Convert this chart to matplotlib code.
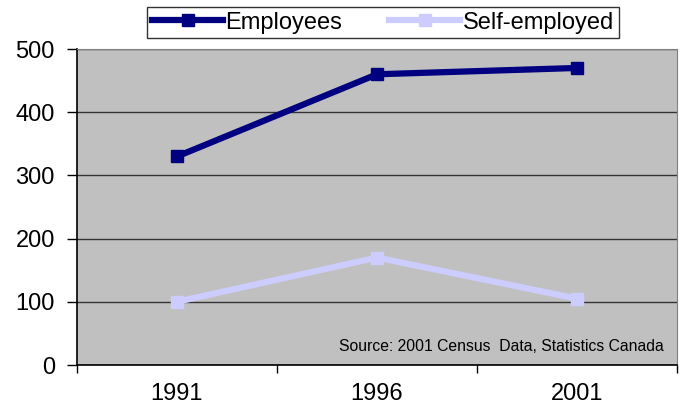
import numpy as np
import matplotlib.pyplot as plt
from matplotlib.ticker import FixedLocator

plt.rcParams['font.family'] = ['Liberation Sans', 'DejaVu Sans']

years = ["1991", "1996", "2001"]
employees = [330, 460, 470]
self_employed = [100, 170, 105]

fig = plt.figure(figsize=(6.84, 4.09), dpi=100)
ax = fig.add_axes([77/684, 1-365/409, 600/684, 316/409])
ax.set_facecolor("#C0C0C0")

x = np.arange(len(years))
ax.plot(x, employees, color="#000080", lw=4.5, marker="s", ms=8.5, label="Employees")
ax.plot(x, self_employed, color="#CCCCFF", lw=4.5, marker="s", ms=8.5, label="Self-employed")

ax.set_xlim(-0.5, 2.5)
ax.set_ylim(0, 500)
ax.set_yticks([0, 100, 200, 300, 400, 500])
ax.yaxis.grid(True, color="#333333", lw=1)
ax.set_axisbelow(True)

ax.set_xticks(x)
ax.set_xticklabels(years)
ax.xaxis.set_minor_locator(FixedLocator([-0.5, 0.5, 1.5, 2.5]))
ax.tick_params(axis="x", which="major", length=0, pad=13, labelsize=17)
ax.tick_params(axis="x", which="minor", length=6, width=1, direction="out")
ax.tick_params(axis="y", length=7, width=1, pad=9, labelsize=17)

for s in ["top", "right"]:
    ax.spines[s].set_color("#808080")
ax.spines["left"].set_linewidth(1.2)
ax.spines["bottom"].set_linewidth(1.2)

ax.text(0.978, 0.035, "Source: 2001 Census  Data, Statistics Canada",
        transform=ax.transAxes, ha="right", va="bottom", fontsize=11.3)

leg = fig.legend(loc="center", bbox_to_anchor=(383/684, 1-22.5/409), ncol=2,
                 fontsize=17, frameon=True, fancybox=False, handlelength=3.0,
                 columnspacing=2.0, handletextpad=0.1, borderpad=0.2)
leg.get_frame().set_edgecolor("black")
leg.get_frame().set_linewidth(1)

fig.savefig("out.png", dpi=100)
